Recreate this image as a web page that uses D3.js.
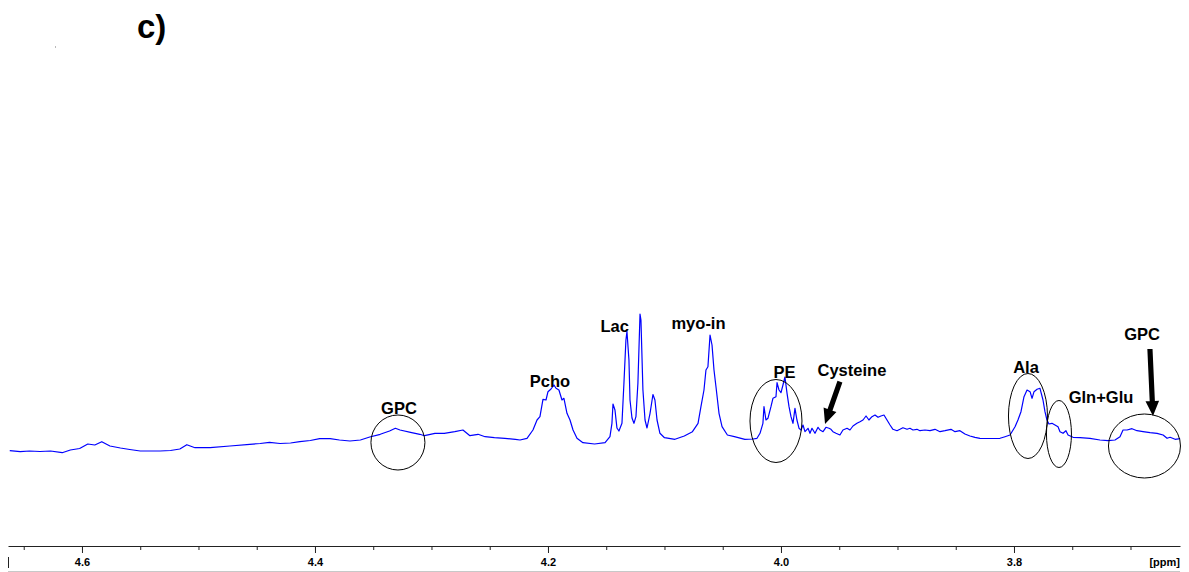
<!DOCTYPE html>
<html>
<head>
<meta charset="utf-8">
<script src="https://cdn.jsdelivr.net/npm/d3@7"></script>
<style>
  html, body { margin: 0; padding: 0; background: #fff; }
  svg { display: block; }
  text { font-family: "Liberation Sans", Arial, sans-serif; font-weight: bold; }
</style>
</head>
<body>
<svg id="chart" width="1189" height="572"></svg>
<script>
// 1H NMR spectrum segment, chemical shift (ppm) vs. intensity (arbitrary units)
const shiftPpm = [
  4.662, 4.653, 4.645, 4.636, 4.627, 4.617, 4.610, 4.602, 4.595, 4.589,
  4.583, 4.576, 4.567, 4.559, 4.550, 4.542, 4.533, 4.524, 4.516, 4.510,
  4.503, 4.490, 4.473, 4.456, 4.447, 4.439, 4.430, 4.421, 4.413, 4.404,
  4.396, 4.387, 4.379, 4.370, 4.361, 4.353, 4.344, 4.336, 4.331, 4.327,
  4.318, 4.310, 4.306, 4.297, 4.289, 4.280, 4.273, 4.267, 4.260, 4.254,
  4.246, 4.237, 4.228, 4.224, 4.218,
  4.2129, 4.2094, 4.2069, 4.2043, 4.2017, 4.2000, 4.1974, 4.1949, 4.1931, 4.1906,
  4.1880, 4.1863, 4.1837, 4.1811, 4.1785, 4.1751,
  4.170, 4.160, 4.151,
  4.1468, 4.1451, 4.1442, 4.1425, 4.1408, 4.1391, 4.1365, 4.1348, 4.1331, 4.1322,
  4.1305, 4.1296, 4.1279, 4.1262, 4.1245, 4.1228, 4.1210, 4.1202, 4.1185, 4.1167,
  4.1150, 4.1124, 4.1099, 4.1082, 4.1064, 4.1039,
  4.100, 4.091, 4.083, 4.076,
  4.0712, 4.0687, 4.0661, 4.0644, 4.0627, 4.0609, 4.0592, 4.0575, 4.0558, 4.0532,
  4.0506, 4.046, 4.040, 4.031,
  4.0240, 4.0206, 4.0180, 4.0155, 4.0146, 4.0129, 4.0112, 4.0086, 4.0069, 4.0043,
  4.0034, 4.0017, 4.0000, 3.9983, 3.9966, 3.9948, 3.9931, 3.9914, 3.9897, 3.9880,
  3.9863, 3.9845, 3.9828, 3.9811, 3.9794, 3.9768, 3.9751, 3.9734, 3.9708, 3.9682,
  3.9665, 3.9639, 3.9614, 3.9588, 3.9571, 3.9554, 3.9528, 3.9494, 3.9468, 3.9433,
  3.9408, 3.9382, 3.9348, 3.9322, 3.9296, 3.9270, 3.9245, 3.9219, 3.9193, 3.9167,
  3.9142, 3.9116, 3.9090, 3.9064, 3.9039, 3.9004, 3.8979, 3.8953, 3.8918, 3.8893,
  3.8867, 3.8833, 3.8807, 3.8764, 3.8721, 3.8678, 3.8635, 3.8592, 3.8541, 3.8506,
  3.8464, 3.8421, 3.8378, 3.8335, 3.8292, 3.8206, 3.8120, 3.8077, 3.8034, 3.7991,
  3.7966, 3.7940, 3.7914, 3.7888, 3.7862, 3.7845, 3.7828, 3.7802, 3.7777, 3.7751,
  3.7734, 3.7717, 3.7700, 3.7674, 3.7648, 3.7622, 3.7605, 3.7579, 3.7554, 3.7536,
  3.7493, 3.7433, 3.7348, 3.7262, 3.7193, 3.7133, 3.7090, 3.7064, 3.7030, 3.6987,
  3.6944, 3.6892, 3.6832, 3.6772, 3.6720, 3.6686, 3.6660, 3.6617, 3.6574
];

const intensity = [
  9.3, 8.3, 9, 8.5, 9, 7.3, 10, 11.5, 16, 15,
  18.3, 14, 12, 10.5, 9, 9, 9, 9.5, 11, 15.3,
  12.3, 12.3, 14, 15.7, 16.5, 17.7, 16.5, 17, 18.3, 19.5,
  21.3, 21.3, 20, 19, 20, 23, 25.7, 29, 31.7, 30,
  27.7, 25.7, 24.3, 26.7, 26.7, 28.3, 30, 24.3, 25.7, 23.3,
  22.3, 21.7, 20.7, 20, 21.7,
  30, 40, 43.3, 60.7, 60, 68.3, 71, 75, 71.7, 70,
  60, 61.7, 46.7, 40, 30, 21.7,
  17.3, 16, 17.3,
  23.3, 36.7, 56, 50, 32, 29, 36.7, 77, 120, 128.3,
  100, 60, 42, 36.7, 43.3, 77, 146, 140, 70, 40,
  32, 46.7, 65.5, 60, 40, 26.7,
  22.3, 20.7, 24, 28.3,
  36.7, 53.3, 70, 90, 93.3, 125, 115, 90, 73.3, 46.7,
  33.3, 25, 23.3, 20.7,
  21, 21.7, 26.7, 36.7, 53.3, 40, 41.7, 53.3, 61.7, 63.3,
  77.3, 70, 67.3, 75, 83, 66.7, 53.3, 43.3, 36.7, 51.7,
  40, 31.7, 30, 35, 28.3, 31.7, 26.7, 31.7, 26.7, 32.7,
  30, 28.3, 32.7, 31.7, 30.7, 28.3, 26.7, 25, 30, 31.7,
  30, 34, 36.7, 38.3, 40, 44, 40, 43.3, 45, 42.7,
  44, 45, 40, 35, 30.7, 29.3, 30.7, 32.3, 30.7, 31.7,
  30, 30.7, 29.3, 30, 29.3, 30.7, 28.3, 29.3, 30.7, 28.3,
  29.3, 26, 24, 22.7, 21.7, 21.5, 21.7, 23.3, 25, 33.3,
  40, 48.3, 63.3, 70, 68.3, 61.7, 68.3, 70.7, 71.7, 60,
  48.3, 40, 36, 36.7, 35, 33.3, 28.3, 26.7, 29.3, 25,
  22.7, 22.3, 21.7, 20, 19.3, 20, 23.3, 30, 30, 31.3,
  29.3, 28.3, 27.3, 26.7, 25, 21.7, 22.7, 20.7, 21.3
];

// Axis ticks (ppm)
const minorTicks = [4.65, 4.60, 4.55, 4.50, 4.45, 4.40, 4.35, 4.30, 4.25, 4.20,
                    4.15, 4.10, 4.05, 4.00, 3.95, 3.90, 3.85, 3.80, 3.75, 3.70];
const majorTicks = [4.6, 4.4, 4.2, 4.0, 3.8];
const axisUnit = "[ppm]";
const panelLabel = "c)";

// Metabolite annotations: label text and its anchor (ppm, intensity)
const labelText  = ["GPC", "Pcho", "Lac", "myo-in", "PE", "Cysteine", "Ala", "Gln+Glu", "GPC"];
const labelPpm   = [4.3279, 4.1983, 4.1428, 4.0708, 3.9970, 3.9391, 3.7897, 3.7253, 3.6901];
const labelInt   = [46, 73, 128, 131, 82, 84, 87, 57, 120];

// Circled regions: centre (ppm, intensity)
const ringPpm = [4.3288, 4.0043, 3.7880, 3.7614, 3.6880];
const ringInt = [17.5, 39, 44, 26, 14];

// Arrows: tail and head (ppm, intensity)
const arrowFromPpm = [3.9494, 3.6833];
const arrowFromInt = [78.3, 111];
const arrowToPpm   = [3.9622, 3.6807];
const arrowToInt   = [36, 44];

const svg = d3.select("#chart");

const x = d3.scaleLinear().domain([4.6635, 3.6575]).range([8, 1180]);
const y = d3.scaleLinear().domain([0, 160]).range([460, 300]);
const axisY = 546;

// Spectrum trace
const points = shiftPpm.map((p, i) => [p, intensity[i]]);
svg.append("path")
  .datum(points)
  .attr("fill", "none")
  .attr("stroke", "#0000ff")
  .attr("stroke-width", 1.2)
  .attr("stroke-linejoin", "round")
  .attr("d", d3.line().x(d => x(d[0])).y(d => y(d[1])));

// Circled regions (radii in px)
const ringRx = [27, 26, 19.5, 12.5, 36];
const ringRy = [27.5, 41.5, 42.5, 33.5, 32];
svg.append("g").selectAll("ellipse")
  .data(ringPpm)
  .join("ellipse")
  .attr("cx", d => x(d))
  .attr("cy", (d, i) => y(ringInt[i]))
  .attr("rx", (d, i) => ringRx[i])
  .attr("ry", (d, i) => ringRy[i])
  .attr("fill", "none")
  .attr("stroke", "#000")
  .attr("stroke-width", 1);

// Labels
svg.append("g").selectAll("text")
  .data(labelText)
  .join("text")
  .attr("x", (d, i) => x(labelPpm[i]))
  .attr("y", (d, i) => y(labelInt[i]))
  .attr("text-anchor", "middle")
  .attr("font-size", 16.5)
  .attr("fill", "#000")
  .text(d => d);

// Thick arrows
function arrowPath(x1, y1, x2, y2) {
  const dx = x2 - x1, dy = y2 - y1;
  const len = Math.hypot(dx, dy);
  const ux = dx / len, uy = dy / len;
  const nx = -uy, ny = ux;
  const shaftW = 2.6, headW = 6.8, headL = 15;
  const bx = x2 - ux * headL, by = y2 - uy * headL;
  const pts = [
    [x1 + nx * shaftW, y1 + ny * shaftW],
    [bx + nx * shaftW, by + ny * shaftW],
    [bx + nx * headW, by + ny * headW],
    [x2, y2],
    [bx - nx * headW, by - ny * headW],
    [bx - nx * shaftW, by - ny * shaftW],
    [x1 - nx * shaftW, y1 - ny * shaftW]
  ];
  return "M" + pts.map(p => p.join(",")).join("L") + "Z";
}
svg.append("g").selectAll("path")
  .data(arrowFromPpm)
  .join("path")
  .attr("d", (d, i) => arrowPath(x(d), y(arrowFromInt[i]), x(arrowToPpm[i]), y(arrowToInt[i])))
  .attr("fill", "#000");

// Chemical shift axis
const minorAxis = d3.axisBottom(x)
  .tickValues(minorTicks)
  .tickSize(4)
  .tickSizeOuter(0)
  .tickFormat("");
const gMinor = svg.append("g")
  .attr("transform", `translate(0,${axisY})`)
  .call(minorAxis);
gMinor.select(".domain").attr("stroke", "#222");
gMinor.selectAll(".tick line").attr("stroke", "#222");

const majorAxis = d3.axisBottom(x)
  .tickValues(majorTicks)
  .tickSize(7)
  .tickSizeOuter(0)
  .tickPadding(5)
  .tickFormat(d3.format(".1f"));
const gMajor = svg.append("g")
  .attr("transform", `translate(0,${axisY})`)
  .call(majorAxis);
gMajor.select(".domain").remove();
gMajor.selectAll(".tick line").attr("stroke", "#222");
gMajor.selectAll(".tick text")
  .attr("font-family", "'Liberation Sans', Arial, sans-serif")
  .attr("font-weight", "bold")
  .attr("font-size", 11)
  .attr("fill", "#000");

// Left end marker of the axis and bottom rule
const [xl, xr] = x.range();
svg.append("line")
  .attr("x1", xl + 0.5).attr("x2", xl + 0.5)
  .attr("y1", axisY + 11).attr("y2", axisY + 22)
  .attr("stroke", "#222");
svg.append("line")
  .attr("x1", xl).attr("x2", xr)
  .attr("y1", axisY + 25.5).attr("y2", axisY + 25.5)
  .attr("stroke", "#c8c8c8");

svg.append("text")
  .attr("x", xr)
  .attr("y", axisY + 20)
  .attr("text-anchor", "end")
  .attr("font-size", 11)
  .text(axisUnit);

// Panel label
svg.append("text")
  .attr("x", 137)
  .attr("y", 37.5)
  .attr("font-size", 33)
  .text(panelLabel);

svg.append("rect")
  .attr("x", 55).attr("y", 46.5)
  .attr("width", 1).attr("height", 1)
  .attr("fill", "#777");
</script>
</body>
</html>
